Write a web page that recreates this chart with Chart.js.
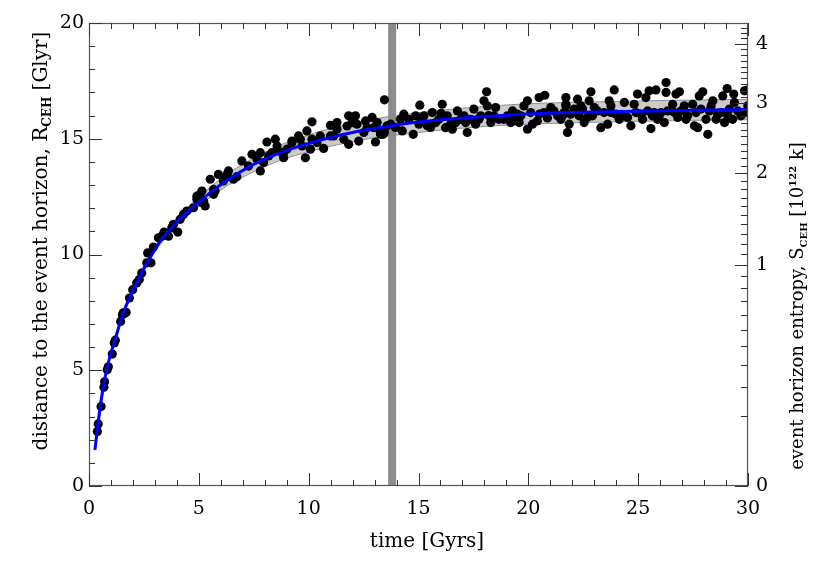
<!DOCTYPE html>
<html><head><meta charset="utf-8">
<script src="https://cdn.jsdelivr.net/npm/chart.js@4.4.0/dist/chart.umd.min.js"></script>
<style>html,body{margin:0;padding:0;background:#fff}#wrap{width:830px;height:568px}</style>
</head><body><div id="wrap"><canvas id="c" width="830" height="568"></canvas></div>
<script>
// ---- data ----
const curveT=[0.27,0.45,0.65,0.9,1.19,1.56,2.17,3.09,3.8,4.6,5.3,6.12,7.65,9.17,10.68,12.2,13.57,15,17,19,21.93,25,27.5,30];
const curveR=[1.56,3.0,4.3,5.4,6.32,7.48,8.77,10.36,11.2,11.95,12.5,13.1,13.97,14.55,14.98,15.31,15.53,15.72,15.9,16.02,16.13,16.19,16.23,16.26];

const bandT=[0.27,1,2,3,4,5,6,7,8,9,10,11,12,13,14,16,18,20,22,24,26,28,30];
const bandUpper=[1.58,5.8,8.53,10.34,11.56,12.48,13.27,13.9,14.41,14.84,15.16,15.44,15.67,15.86,16.0,16.23,16.39,16.51,16.57,16.61,16.65,16.68,16.7];
const bandLower=[1.54,5.7,8.37,10.1,11.24,12.08,12.79,13.34,13.79,14.16,14.44,14.68,14.87,15.04,15.16,15.37,15.53,15.63,15.69,15.73,15.77,15.8,15.82];

const dotT=[0.38,0.42,0.55,0.68,0.71,0.83,0.88,1.06,1.15,1.2,1.44,1.52,1.61,1.69,
1.56,1.84,1.99,2.17,2.29,2.4,2.63,2.82,2.67,2.93,3.16,3.31,3.42,3.62,3.77,3.84,4.04,4.15,4.3,4.45,4.76,4.91,5.06,5.14,5.29,5.22,5.52,5.67,5.74,5.89,6.12,6.28,6.35,6.58,6.73,6.96,7.26,7.42,7.65,7.8,7.95,8.1,8.33,8.48,8.56,8.79,8.86,9.01,9.24,9.54,9.7,9.85,9.92,10.08,10.15,10.38,10.68,10.99,11.29,11.14,11.6,11.82,11.98,12.13,12.2,11.82,12.28,12.51,12.66,12.89,13.04,13.27,13.45,13.12,13.45,
4.91,5.14,5.67,6.12,7.8,8.18,8.56,8.86,9.24,9.62,10.15,10.53,10.99,11.29,11.75,12.05,12.59,12.97,13.27,
13.39,13.57,13.27,14.18,14.33,14.26,14.76,14.87,15.06,15.17,15.4,15.63,15.78,16.08,16.03,16.23,16.46,16.54,16.77,16.92,17.15,17.22,17.52,17.6,17.83,17.98,18.1,18.13,18.2,18.29,18.51,18.66,19.05,19.2,19.28,19.5,19.58,19.8,19.96,19.96,20.19,20.41,20.5,20.49,20.75,20.72,20.87,21.02,21.33,21.56,21.71,21.71,21.78,
13.73,13.95,14.56,15.02,15.25,15.55,15.93,16.31,16.69,17.07,17.37,17.75,18.44,18.89,19.35,19.66,20.11,21.17,21.48,
21.71,21.86,22.24,22.31,22.47,22.54,22.77,22.85,23.0,23.15,23.3,23.61,23.68,23.76,23.91,23.99,24.14,24.37,24.67,24.82,24.97,25.2,25.35,25.5,25.58,25.65,25.81,25.88,26.04,26.19,26.27,26.27,26.57,26.72,26.8,26.88,27.1,27.18,27.48,27.56,27.71,27.78,27.94,28.09,28.17,28.32,28.4,28.55,28.77,28.85,28.93,29.05,29.15,29.3,29.38,29.35,29.68,29.84,29.99,29.97,
21.48,21.63,21.93,22.09,22.39,22.69,22.92,23.45,23.76,24.29,24.52,24.9,25.13,25.43,25.73,25.96,26.34,26.65,26.95,27.25,27.63,27.86,28.24,28.62,29.08,29.53,29.92];
const dotR=[2.35,2.68,3.43,4.27,4.5,5.02,5.15,5.7,6.18,6.3,7.11,7.4,7.45,7.5,
7.48,8.12,8.48,8.77,8.92,9.2,9.64,9.64,10.07,10.32,10.72,10.79,10.97,10.79,11.15,11.3,10.97,11.52,11.73,11.88,12.02,12.38,12.6,12.74,12.1,12.3,13.25,12.6,12.74,13.46,13.18,13.46,13.61,13.25,13.36,14.04,13.82,14.33,14.11,13.61,13.97,14.86,14.4,14.98,14.69,14.4,14.18,14.55,14.9,15.12,14.69,14.18,15.34,14.55,15.73,14.84,14.58,15.58,15.7,15.12,14.98,15.99,15.7,15.99,15.63,14.76,14.9,15.27,15.48,15.92,14.86,15.19,15.27,15.7,16.68,
12.52,12.24,12.81,13.25,14.4,14.26,14.48,14.4,14.83,14.98,14.98,15.12,15.12,15.41,15.55,15.7,15.77,15.48,15.27,
15.19,15.56,15.3,15.84,16.06,15.34,15.19,15.99,16.45,15.84,15.56,16.13,15.7,16.49,16.1,15.48,15.63,15.41,16.2,15.84,15.7,15.27,16.28,15.63,15.99,16.64,17.03,16.42,16.0,15.7,16.35,15.84,15.99,15.7,16.2,16.06,15.7,16.42,16.64,15.41,15.63,15.77,16.06,16.78,16.88,16.13,15.9,16.35,15.99,15.99,16.78,16.42,15.27,
15.63,15.49,15.84,15.63,15.99,15.49,15.84,15.99,15.7,15.99,15.84,15.84,15.99,15.84,15.92,15.99,16.13,16.2,15.84,
16.49,15.63,16.71,15.99,16.28,15.7,16.64,17.03,16.35,16.2,15.48,15.63,16.64,16.42,17.11,16.06,15.84,16.57,15.56,16.49,16.93,15.84,16.78,17.07,15.44,15.99,17.11,15.84,16.13,15.7,17.43,17.0,16.49,16.93,15.92,17.03,16.42,15.84,16.49,15.56,15.48,16.85,17.03,15.84,15.19,16.42,16.64,15.84,16.13,16.85,15.7,17.17,16.28,15.84,16.57,16.93,15.99,17.07,16.42,17.1,
15.99,16.13,16.06,16.28,16.42,15.92,15.99,16.13,16.13,15.99,15.92,16.13,16.06,16.2,16.13,15.99,16.2,16.13,16.2,15.99,16.13,16.28,16.2,16.06,15.99,16.2,16.13];

const ageOfUniverse=13.8;          // vertical marker [Gyrs]
const xMajorTicks=[0,5,10,15,20,25,30];
const yMajorTicks=[0,5,10,15,20];
const entropyMajor=[0,1,2,3,4];    // 10^122 k
const entropyUnitR=9.55;           // R [Glyr] at which S = 1 (S ∝ R²)

// ---- chart ----
const FONT='"DejaVu Serif"';
const pts=(xs,ys)=>xs.map((x,i)=>({x:x,y:ys[i]}));

const axesPlugin={
  id:'idlAxes',
  afterDraw(chart){
    const {ctx,chartArea:a,scales}=chart;
    const xs=scales.x, ys=scales.y;
    ctx.save();
    ctx.strokeStyle='#555'; ctx.lineWidth=1.2;
    ctx.strokeRect(a.left+0.5,a.top+0.5,a.right-a.left-1,a.bottom-a.top-1);
    ctx.strokeStyle='#333'; ctx.lineWidth=1;
    ctx.beginPath();
    for(let v=xs.min; v<=xs.max; v+=1){
      const p=Math.round(xs.getPixelForValue(v))+0.5;
      const L=xMajorTicks.includes(v)?13:6;
      ctx.moveTo(p,a.bottom); ctx.lineTo(p,a.bottom-L);
      ctx.moveTo(p,a.top); ctx.lineTo(p,a.top+L);
    }
    for(let v=ys.min; v<=ys.max; v+=1){
      const p=Math.round(ys.getPixelForValue(v))+0.5;
      const L=yMajorTicks.includes(v)?13:6;
      ctx.moveTo(a.left,p); ctx.lineTo(a.left+L,p);
    }
    for(let k=0;k<=43;k++){
      const s=k/10;
      const p=Math.round(ys.getPixelForValue(entropyUnitR*Math.sqrt(s)))+0.5;
      const L=(k%10===0)?13:7;
      ctx.moveTo(a.right,p); ctx.lineTo(a.right-L,p);
    }
    ctx.stroke();
    ctx.restore();
    // axis titles with sub/superscripts
    drawRich(ctx,[{t:'time [Gyrs]',s:0}],427,540,0,20);
    drawRich(ctx,[{t:'distance to the event horizon, R',s:0},{t:'CEH',s:-1},{t:' [Glyr]',s:0}],40,241,-Math.PI/2,20);
    drawRich(ctx,[{t:'event horizon entropy, S',s:0},{t:'CEH',s:-1},{t:' [10',s:0},{t:'122',s:1},{t:' k]',s:0}],797,306,-Math.PI/2,18);
  }
};
function drawRich(ctx,parts,cx,cy,rot,size){
  ctx.save(); ctx.translate(cx,cy); ctx.rotate(rot);
  const fonts=parts.map(p=>p.s===0?`${size}px ${FONT}`:`bold ${Math.round(size*0.58)}px ${FONT}`);
  let w=0;
  const widths=parts.map((p,i)=>{ctx.font=fonts[i];const m=ctx.measureText(p.t).width;w+=m;return m;});
  let x=-w/2; ctx.textBaseline='alphabetic'; ctx.textAlign='left'; ctx.fillStyle='#000';
  parts.forEach((p,i)=>{ctx.font=fonts[i];const dy=p.s<0?size*0.2:(p.s>0?-size*0.42:0);ctx.fillText(p.t,x,size*0.36+dy);x+=widths[i];});
  ctx.restore();
}

new Chart(document.getElementById('c'),{
  type:'scatter',
  data:{datasets:[
    {type:'line',data:pts(bandT,bandUpper),borderColor:'#8f8f8f',borderWidth:1,backgroundColor:'#cbcbcb',fill:'+1',pointRadius:0,tension:0.4,order:5},
    {type:'line',data:pts(bandT,bandLower),borderColor:'#8f8f8f',borderWidth:1,fill:false,pointRadius:0,tension:0.4,order:4},
    {type:'line',data:[{x:ageOfUniverse,y:0},{x:ageOfUniverse,y:20}],borderColor:'#8c8c8c',borderWidth:8,borderCapStyle:'butt',pointRadius:0,fill:false,order:3},
    {type:'scatter',data:pts(dotT,dotR),backgroundColor:'#000',borderColor:'#000',borderWidth:0,pointRadius:4.6,order:2},
    {type:'line',data:pts(curveT,curveR),borderColor:'#0000ff',borderWidth:3,pointRadius:0,fill:false,cubicInterpolationMode:'monotone',order:1}
  ]},
  options:{
    responsive:false,animation:false,devicePixelRatio:1,
    layout:{padding:{top:23,left:0,right:0,bottom:0}},
    plugins:{legend:{display:false},tooltip:{enabled:false}},
    scales:{
      x:{type:'linear',position:'bottom',min:0,max:30,
         ticks:{stepSize:5,color:'#000',font:{family:'DejaVu Serif',size:19},padding:12,maxRotation:0},
         grid:{display:false,drawTicks:false},border:{display:false},
         afterFit:s=>{s.height=82;}},
      y:{type:'linear',position:'left',min:0,max:20,
         ticks:{stepSize:5,color:'#000',font:{family:'DejaVu Serif',size:19},padding:5},
         grid:{display:false,drawTicks:false},border:{display:false},
         afterFit:s=>{s.width=89;}},
      y2:{type:'linear',position:'right',min:0,max:20,
         afterBuildTicks:ax=>{ax.ticks=entropyMajor.map(s=>({value:entropyUnitR*Math.sqrt(s)}));},
         ticks:{autoSkip:false,color:'#000',font:{family:'DejaVu Serif',size:19},padding:8,
                callback:(v,i)=>String(entropyMajor[i])},
         grid:{display:false,drawTicks:false},border:{display:false},
         afterFit:s=>{s.width=82;}}
    }
  },
  plugins:[axesPlugin]
});
</script></body></html>
